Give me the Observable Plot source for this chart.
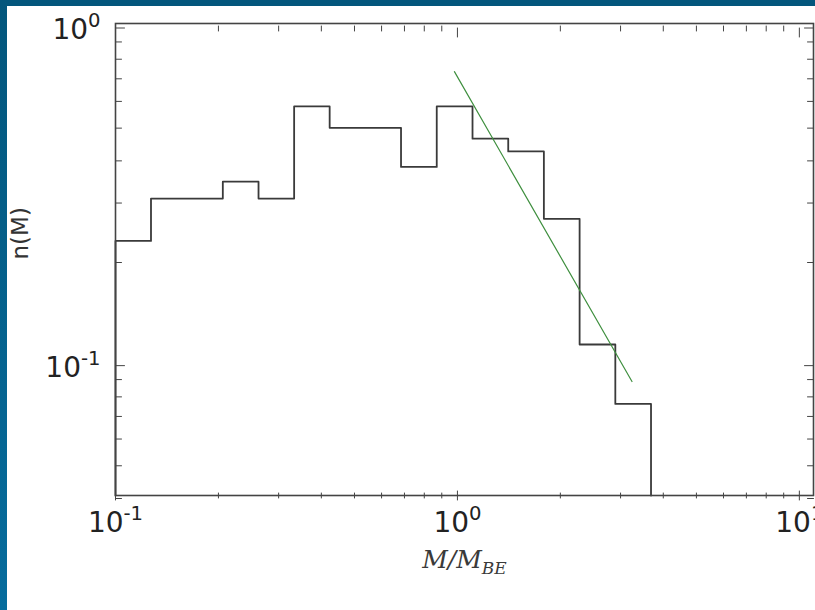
<!DOCTYPE html>
<html>
<head>
<meta charset="utf-8">
<script src="https://cdn.jsdelivr.net/npm/d3@7"></script>
<script src="https://cdn.jsdelivr.net/npm/@observablehq/plot@0.6"></script>
<style>
  html, body { margin: 0; padding: 0; background: #fff; }
  #wrap { position: relative; width: 815px; height: 610px; overflow: hidden; background: #fff; }
  #chart { position: absolute; left: 0; top: 0; }
  .band-top { position: absolute; left: 0; top: 0; width: 815px; height: 6px; background: #03567c; z-index: 2; }
  .band-left { position: absolute; left: 0; top: 0; width: 7px; height: 610px; background: linear-gradient(#03567c, #066c9d); z-index: 2; }
</style>
</head>
<body>
<div id="wrap">
  <div id="chart"></div>
  <div class="band-top"></div>
  <div class="band-left"></div>
</div>
<script>
// ---- data ----
const binEdges = [0.1, 0.127, 0.162, 0.206, 0.262, 0.333, 0.423, 0.538, 0.684, 0.870, 1.107, 1.408, 1.790, 2.277, 2.896, 3.683];
const nValues  = [0.227, 0.303, 0.303, 0.340, 0.303, 0.568, 0.491, 0.491, 0.376, 0.568, 0.456, 0.418, 0.264, 0.112, 0.0747];
const fitX = [0.98, 3.24];
const fitY = [0.72, 0.087];
const xDomain = [0.1, 11];
const yDomain = [0.04, 1];
const xMajorTicks = [0.1, 1, 10];
const xMinorTicks = [0.2, 0.3, 0.4, 0.5, 0.6, 0.7, 0.8, 0.9, 2, 3, 4, 5, 6, 7, 8, 9];
const yMajorTicks = [0.1, 1];
const yMinorTicks = [0.04, 0.05, 0.06, 0.07, 0.08, 0.09, 0.2, 0.3, 0.4, 0.5, 0.6, 0.7, 0.8, 0.9];
const xLabel = "M/M_BE";
const yLabel = "n(M)";

// ---- derived tables ----
const nb = nValues.length;
const histPts = [[binEdges[0], yDomain[0]]]
  .concat(nValues.map((v, i) => [binEdges[i], v]))
  .concat([[binEdges[nb], nValues[nb - 1]], [binEdges[nb], yDomain[0]]]);
const fitPts = fitX.map((x, i) => [x, fitY[i]]);

const tickColor = "#444";
const shapeUp = {draw(c, l) { c.moveTo(0, 0); c.lineTo(0, -l); }};
const shapeDown = {draw(c, l) { c.moveTo(0, 0); c.lineTo(0, l); }};
const shapeRight = {draw(c, l) { c.moveTo(0, 0); c.lineTo(l, 0); }};
const shapeLeft = {draw(c, l) { c.moveTo(0, 0); c.lineTo(-l, 0); }};

function xTicks(data, len) {
  return [
    Plot.vector(data, {x: d => d, frameAnchor: "bottom", length: len, shape: shapeUp, stroke: tickColor, strokeWidth: 1}),
    Plot.vector(data, {x: d => d, frameAnchor: "top", length: len, shape: shapeDown, stroke: tickColor, strokeWidth: 1})
  ];
}
function yTicks(data, len) {
  return [
    Plot.vector(data, {y: d => d, frameAnchor: "left", length: len, shape: shapeRight, stroke: tickColor, strokeWidth: 1}),
    Plot.vector(data, {y: d => d, frameAnchor: "right", length: len, shape: shapeLeft, stroke: tickColor, strokeWidth: 1})
  ];
}
const fmtPow = d => `10^${Math.round(Math.log10(d))}`;
const TICK_FS = 28;

const chart = Plot.plot({
  width: 815,
  height: 610,
  marginLeft: 115,
  marginRight: 2,
  marginTop: 23,
  marginBottom: 115,
  x: {type: "log", domain: xDomain},
  y: {type: "log", domain: yDomain},
  style: {background: "white", fontFamily: "'DejaVu Sans', sans-serif", color: "#222", overflow: "visible"},
  marks: [
    Plot.line(histPts, {x: d => d[0], y: d => d[1], curve: "step-after", stroke: "#3a3a3a", strokeWidth: 1.8}),
    Plot.line(fitPts, {x: d => d[0], y: d => d[1], stroke: "#3f8f3f", strokeWidth: 1.2}),
    Plot.frame({stroke: "#444", strokeWidth: 1.6}),
    ...xTicks(xMinorTicks, 5),
    ...xTicks(xMajorTicks, 9),
    ...yTicks(yMinorTicks, 6),
    ...yTicks(yMajorTicks, 9),
    Plot.axisX({ticks: xMajorTicks, tickSize: 0, tickPadding: 17, tickFormat: fmtPow, fontSize: TICK_FS, label: null, fill: "#222"}),
    Plot.axisY({ticks: yMajorTicks, tickSize: 0, tickPadding: 15, dy: 7, tickFormat: fmtPow, fontSize: TICK_FS, label: null, fill: "#222"}),
    Plot.text([xLabel], {text: d => d, frameAnchor: "bottom", dy: 72, fontSize: 25, fontFamily: "'DejaVu Serif', serif", fontStyle: "italic", fill: "#3a3a3a"}),
    Plot.text([yLabel], {text: d => d, frameAnchor: "left", dx: -95, rotate: -90, fontSize: 23, fill: "#333"})
  ]
});
document.getElementById("chart").appendChild(chart);

// superscripts for power-of-ten tick labels
d3.select(chart).selectAll('g[aria-label="x-axis tick label"] text, g[aria-label="y-axis tick label"] text').each(function() {
  const s = this.textContent;
  const parts = s.split("^");
  if (parts.length !== 2) return;
  const t = d3.select(this);
  t.text(null);
  t.append("tspan").text(parts[0]);
  t.append("tspan").attr("dy", -0.45 * TICK_FS).attr("font-size", 0.7 * TICK_FS).text(parts[1]);
});
// subscript for the x label
d3.select(chart).selectAll("text").each(function() {
  const s = this.textContent;
  if (s !== xLabel) return;
  const parts = s.split("_");
  const t = d3.select(this);
  t.text(null);
  t.append("tspan").text(parts[0]);
  t.append("tspan").attr("dy", 6).attr("font-size", 17).text(parts[1]);
});
</script>
</body>
</html>
